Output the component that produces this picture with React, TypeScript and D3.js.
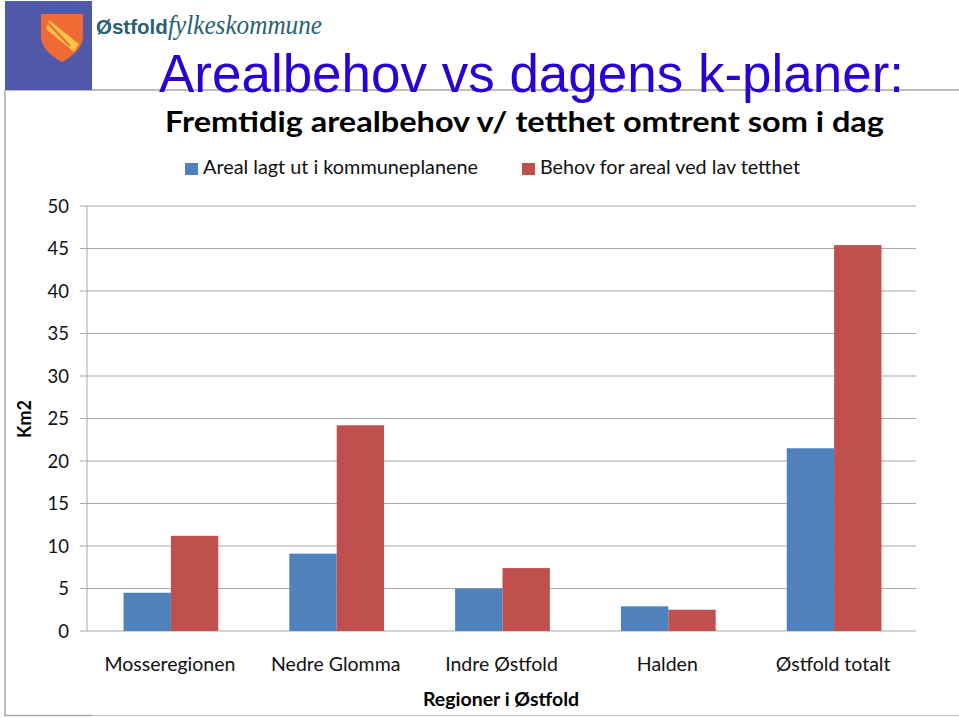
import React from "react"
import * as d3 from "d3"

const categories = ["Mosseregionen", "Nedre Glomma", "Indre Østfold", "Halden", "Østfold totalt"]
const seriesNames = ["Areal lagt ut i kommuneplanene", "Behov for areal ved lav tetthet"]
const arealValues = [4.5, 9.1, 5.0, 2.9, 21.5]
const behovValues = [11.2, 24.2, 7.4, 2.5, 45.4]
const yTicks = [0, 5, 10, 15, 20, 25, 30, 35, 40, 45, 50]

const width = 959
const height = 718
const BLUE = "#4f81bd"
const RED = "#c0504d"
const GRID = "#a8a8a8"
const FONT = "Lato, 'Open Sans', sans-serif"

export default function App() {
  const x = d3.scaleBand().domain(categories).range([87, 916])
  // bars fill a bit under 60% of each category
  const inner = d3
    .scaleBand()
    .domain(seriesNames)
    .range([1, x.bandwidth() + 1])
    .paddingInner(0)
    .paddingOuter(0.75)
  const y = d3.scaleLinear().domain([0, 50]).range([631, 206])

  const series = [
    { name: seriesNames[0], values: arealValues, color: BLUE },
    { name: seriesNames[1], values: behovValues, color: RED },
  ]

  return (
    <svg
      width={width}
      height={height}
      style={{ position: "absolute", left: 0, top: 0, background: "#fff" }}
    >
      {/* slide frame */}
      <path d="M92 715.5H959" fill="none" stroke="#c4c4c4" strokeWidth={1} />
      <path d="M5 90H959M5 90V715.5H92" fill="none" stroke={GRID} strokeWidth={1.5} />
      <rect x={5} y={1} width={87} height={89} fill="#5058a8" />
      <path d="M41 14H83V38C82 48 72 57 62 62C52 57 42 48 41 38Z" fill="#ef6a35" />
      <path d="M49 20L79 44L74 52L46 29Z" fill="#f9d24a" opacity={0.85} />
      <path d="M47 22L70 46M54 17L76 41" stroke="#ef6a35" strokeWidth={2} />
      <text x={96} y={34} fontFamily="'Liberation Sans', sans-serif" fontWeight={700} fontSize={20.5} fill="#2a6172">
        Østfold
      </text>
      <text x={168} y={34} fontFamily="'Liberation Serif', serif" fontStyle="italic" fontSize={28} fill="#2a6172" textLength={154} lengthAdjust="spacingAndGlyphs">
        fylkeskommune
      </text>

      <text x={159} y={92} fontFamily="'Liberation Sans', Arial, sans-serif" fontSize={54} fill="#2a00d4" textLength={745} lengthAdjust="spacingAndGlyphs">
        Arealbehov vs dagens k-planer:
      </text>
      <text x={165} y={132} fontFamily={FONT} fontWeight={700} fontSize={28} fill="#000" textLength={719} lengthAdjust="spacingAndGlyphs">
        Fremtidig arealbehov v/ tetthet omtrent som i dag
      </text>

      {/* legend */}
      {series.map((s, i) => {
        const lx = i === 0 ? 185 : 522
        return (
          <g key={s.name}>
            <rect x={lx} y={163} width={13} height={12} fill={s.color} />
            <text x={lx + 18} y={174} fontFamily={FONT} fontSize={19} fill="#111" textLength={i === 0 ? 275 : 260} lengthAdjust="spacingAndGlyphs">
              {s.name}
            </text>
          </g>
        )
      })}

      {/* grid and y axis */}
      {yTicks.map(t => (
        <g key={t}>
          <line x1={80} x2={916} y1={y(t)} y2={y(t)} stroke={GRID} strokeWidth={1.2} />
          <text x={69} y={y(t) + 6.5} textAnchor="end" fontFamily={FONT} fontSize={18.5} fill="#111">
            {t}
          </text>
        </g>
      ))}
      <line x1={87} x2={87} y1={y(50)} y2={y(0)} stroke={GRID} strokeWidth={1} />
      <text transform="translate(31,419) rotate(-90)" textAnchor="middle" fontFamily={FONT} fontWeight={700} fontSize={18} fill="#000">
        Km2
      </text>

      {/* bars */}
      {series.map(s =>
        categories.map((c, i) => (
          <rect
            key={s.name + c}
            x={(x(c) ?? 0) + (inner(s.name) ?? 0)}
            y={y(s.values[i])}
            width={inner.bandwidth()}
            height={y(0) - y(s.values[i])}
            fill={s.color}
          />
        ))
      )}

      {/* x labels */}
      {categories.map(c => (
        <text key={c} x={(x(c) ?? 0) + x.bandwidth() / 2} y={671} textAnchor="middle" fontFamily={FONT} fontSize={19.5} fill="#111">
          {c}
        </text>
      ))}
      <text x={501} y={706} textAnchor="middle" fontFamily={FONT} fontWeight={700} fontSize={19.5} fill="#000">
        Regioner i Østfold
      </text>
    </svg>
  )
}
